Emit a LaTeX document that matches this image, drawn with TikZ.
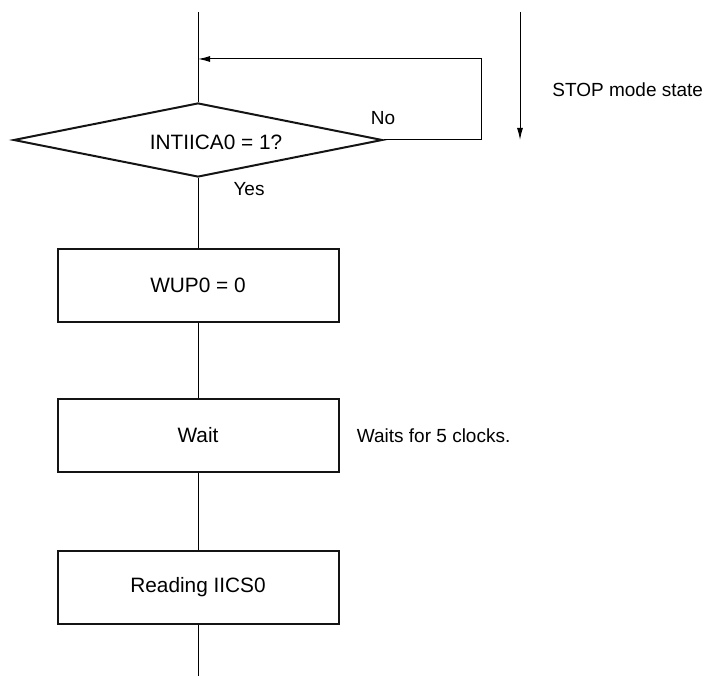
\documentclass[tikz,border=0pt]{standalone}
\usepackage{fontspec}
\setmainfont{Liberation Sans}
\usetikzlibrary{arrows.meta,positioning,shapes.geometric}
\definecolor{figedge}{RGB}{20,20,20}

\begin{document}
\begin{tikzpicture}[
  x=0.5pt, y=-0.5pt,
  font=\fontsize{9.5}{11.4}\selectfont,
  stepbox/.style={draw=figedge, line width=1pt, minimum width=140.5pt,
    minimum height=36.5pt, inner sep=0pt, font=\fontsize{10.4}{12.5}\selectfont},
  decision/.style={diamond, draw=figedge, line width=1pt, minimum width=184.5pt,
    minimum height=37pt, inner sep=0pt},
  flow/.style={line width=0.5pt},
  arr/.style={-{Latex[length=6pt,width=3pt]}, line width=0.5pt},
  note/.style={inner sep=0pt}]
  \useasboundingbox (0,0) rectangle (711,678);
  \node[decision, label={[note,xshift=9pt,yshift=-1pt,
    font=\fontsize{10.4}{12.5}\selectfont]center:INTIICA0 = 1?}] (dec) at (198,140) {};
  \node[stepbox, below=35pt of dec] (wup) {WUP0 = 0};
  \node[stepbox, below=37.5pt of wup] (wait) {Wait};
  \node[stepbox, below=38.5pt of wait] (read) {Reading IICS0};
  \coordinate (top) at (198,12);
  \coordinate (ret) at (198,59);
  \coordinate (bot) at (198,676);
  \coordinate (stoptop) at (520,12);
  \coordinate (stopend) at (520,140);
  \node[note] (no) at (383,118) {No};
  \node[note] (yes) at (249,189) {Yes};
  \node[note, anchor=west] (stop) at (552,90) {STOP mode state};
  \node[note, right=8.5pt of wait] (waitnote) {Waits for 5 clocks.};
  \draw[flow] (top) -- (dec);
  \draw[flow] (dec) -- (wup);
  \draw[flow] (wup) -- (wait);
  \draw[flow] (wait) -- (read);
  \draw[flow] (read) -- (bot);
  \draw[arr] (dec.east) -- ++(98,0) |- (ret);
  \draw[arr] (stoptop) -- (stopend);
\end{tikzpicture}
\end{document}
